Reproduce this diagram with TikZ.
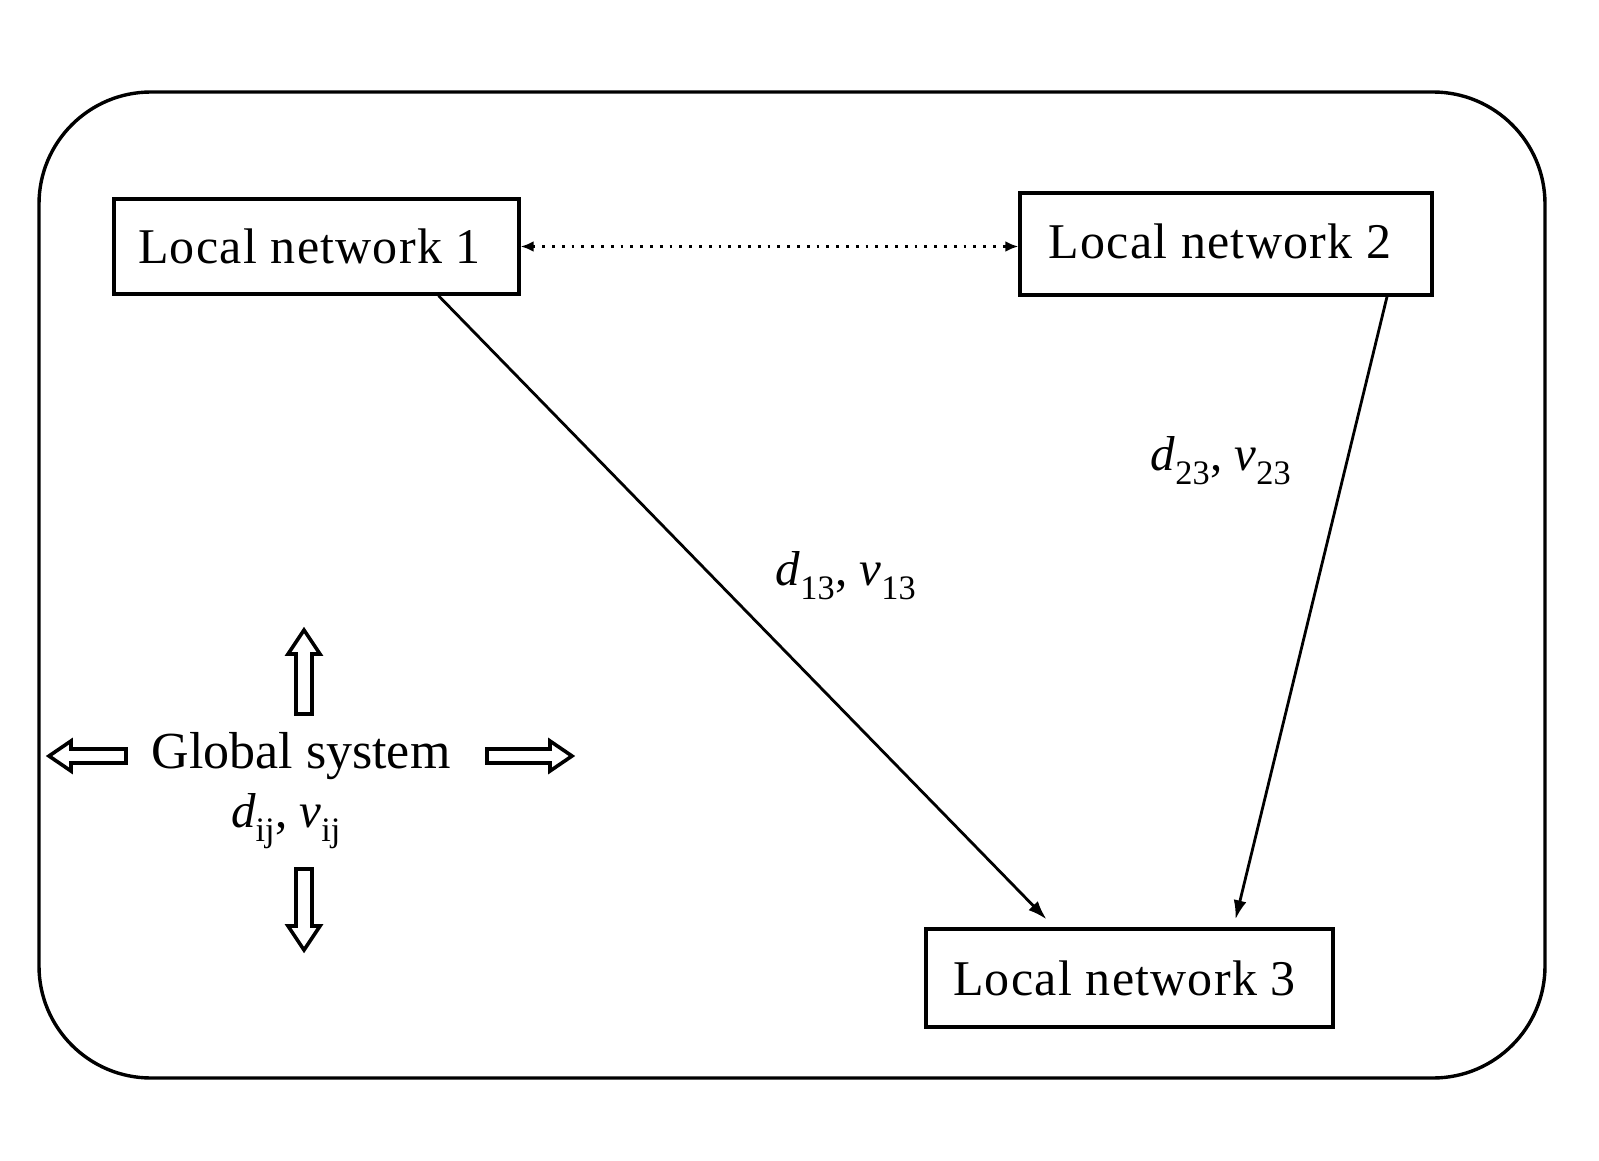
\documentclass[tikz,border=0pt]{standalone}
\usepackage{fontspec}
\setmainfont{Liberation Serif}
\usetikzlibrary{arrows.meta,calc}
\newcommand{\lbl}[3]{\textit{#1}\textsubscript{#2}, \textit{#3}\textsubscript{#2}}
\begin{document}
\begin{tikzpicture}[x=1pt,y=-1pt,
  netbox/.style={draw,line width=3.4pt,inner sep=0pt,font=\fontsize{50}{60}\selectfont\addfontfeature{LetterSpace=2.5}},
  conn/.style={line width=2.8pt,-{Latex[length=19pt,width=13pt]}},
  dotconn/.style={line width=2.8pt,dash pattern=on 2.8pt off 7pt,{Latex[length=13pt,width=11pt]}-{Latex[length=13pt,width=11pt]}},
  lab/.style={font=\fontsize{49}{56}\selectfont,inner sep=0pt},
  blockarrow/.style={draw,line width=3.6pt,line join=miter,fill=white}]
\useasboundingbox (0,0) rectangle (1599,1161);
\fill[white] (0,0) rectangle (1599,1161);
\draw[line width=3.4pt,rounded corners=112pt] (39,92) rectangle (1545,1078);
\node[netbox,minimum width=405pt,minimum height=95pt] (n1) at (316.5,246.5) {Local network 1\hspace*{14pt}};
\node[netbox,minimum width=412pt,minimum height=102pt] (n2) at (1226,244) {\raisebox{5pt}{Local network 2}\hspace*{12pt}};
\node[netbox,minimum width=407pt,minimum height=98pt] (n3) at (1129.5,978) {Local network 3\hspace*{10pt}};
\draw[dotconn] (n1.east) -- (n2.west |- n1.east);
\draw[conn] ([xshift=122pt]n1.south) -- ([xshift=-83pt,yshift=8pt]n3.north);
\draw[conn] ([xshift=161pt]n2.south) -- ([xshift=106pt,yshift=8pt]n3.north);
\node[lab] (l13) at (846,576) {\lbl{d}{13}{v}};
\node[lab] (l23) at (1221,461) {\lbl{d}{23}{v}};
\node[font=\fontsize{52}{60}\selectfont,inner sep=0pt] (gs) at (301,756) {Global system};
\node[lab] (lij) at (286,821) {\lbl{d}{ij}{v}};
% up arrow
\draw[blockarrow] (296,714) -- (296,654) -- (288,654) -- (304,630) -- (320,654) -- (312,654) -- (312,714) -- cycle;
% down arrow
\draw[blockarrow] (296,869) -- (296,926) -- (288,926) -- (304,950) -- (320,926) -- (312,926) -- (312,869) -- cycle;
% left arrow
\draw[blockarrow] (126,749) -- (71,749) -- (71,741) -- (49,756) -- (71,771) -- (71,763) -- (126,763) -- cycle;
% right arrow
\draw[blockarrow] (487,749) -- (550,749) -- (550,741) -- (572,756) -- (550,771) -- (550,763) -- (487,763) -- cycle;
\end{tikzpicture}
\end{document}
